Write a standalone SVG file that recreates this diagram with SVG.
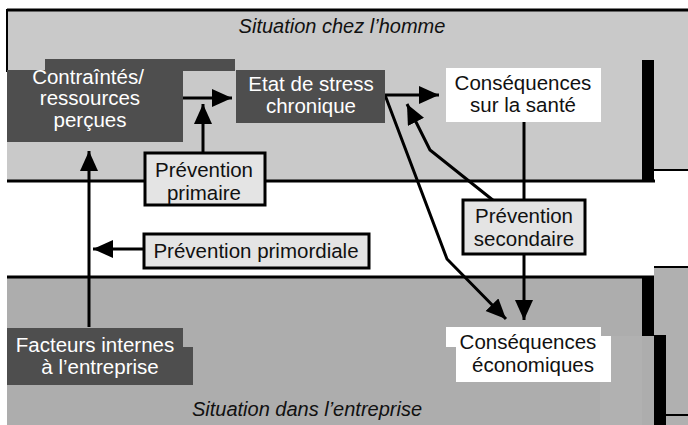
<svg xmlns="http://www.w3.org/2000/svg" width="688" height="425" viewBox="0 0 688 425">
<defs>
<marker id="ah" markerUnits="userSpaceOnUse" markerWidth="22" markerHeight="20" refX="20" refY="9" orient="auto">
<path d="M0,0 L20,9 L0,18 z" fill="#000"/>
</marker>
<style>
.t{font-family:"Liberation Sans",Arial,sans-serif;font-size:20.5px;text-anchor:middle}
.w{fill:#fff}
.k{fill:#111}
.it{font-style:italic;font-size:20px}
.dark{fill:#4e4e4e}
.prev{fill:#e4e4e4;stroke:#000;stroke-width:3}
.wb{fill:#fff}
.c{fill:none;stroke:#000;stroke-width:3}
</style>
</defs>
<rect width="688" height="425" fill="#fff"/>
<g id="band-homme">
<rect x="7" y="10" width="681" height="160" fill="#c9c9c9"/>
<rect x="7" y="170" width="647" height="11" fill="#c9c9c9"/>
<line x1="7" y1="10" x2="688" y2="10" stroke="#000" stroke-width="3"/>
<line x1="7" y1="9" x2="7" y2="72" stroke="#000" stroke-width="2"/>
<line x1="7" y1="181" x2="655" y2="181" stroke="#000" stroke-width="3"/>
<rect x="642" y="60" width="12" height="122" fill="#000"/>
<line x1="654" y1="170" x2="688" y2="170" stroke="#000" stroke-width="2"/>
<text class="t it k" x="342" y="33">Situation chez l’homme</text>
</g>
<g id="band-entreprise">
<rect x="7" y="278" width="647" height="147" fill="#adadad"/>
<rect x="600" y="336" width="42" height="89" fill="#b1b1b1"/>
<rect x="654" y="267" width="34" height="158" fill="#b0b0b0"/>
<line x1="7" y1="277" x2="654" y2="277" stroke="#000" stroke-width="3"/>
<line x1="654" y1="267" x2="688" y2="267" stroke="#000" stroke-width="2"/>
<rect x="642" y="277" width="12" height="59" fill="#000"/>
<rect x="654" y="335" width="12" height="90" fill="#000"/>
<line x1="666" y1="415" x2="688" y2="415" stroke="#000" stroke-width="2"/>
<text class="t it k" x="307" y="416">Situation dans l’entreprise</text>
</g>
<g id="connectors">
<line class="c" x1="89" y1="327" x2="89" y2="151" marker-end="url(#ah)"/>
<line class="c" x1="145" y1="249" x2="93" y2="249" marker-end="url(#ah)"/>
<line class="c" x1="183" y1="98" x2="232" y2="98" marker-end="url(#ah)"/>
<line class="c" x1="203" y1="152" x2="203" y2="104" marker-end="url(#ah)"/>
<line class="c" x1="385" y1="95" x2="439" y2="95" marker-end="url(#ah)"/>
<polyline class="c" points="494,201 430,150 407,104" marker-end="url(#ah)"/>
<line class="c" x1="524" y1="122" x2="524" y2="200"/>
<line class="c" x1="524" y1="254" x2="524" y2="320" marker-end="url(#ah)"/>
<polyline class="c" points="385,95 447,259 506,319" marker-end="url(#ah)"/>
</g>
<g id="contraintes">
<rect class="dark" x="45" y="59" width="190" height="12"/>
<rect class="dark" x="7" y="70" width="176" height="72"/>
<text class="t w" x="88" y="84">Contraîntés/</text>
<text class="t w" x="90" y="105">ressources</text>
<text class="t w" x="90" y="127">perçues</text>
</g>
<g id="stress">
<rect class="dark" x="236" y="70" width="149" height="53"/>
<text class="t w" x="311" y="91">Etat de stress</text>
<text class="t w" x="311" y="113">chronique</text>
</g>
<g id="sante">
<rect class="wb" x="446" y="68" width="155" height="54"/>
<text class="t k" x="523" y="90">Conséquences</text>
<text class="t k" x="523" y="112">sur la santé</text>
</g>
<g id="primaire">
<rect class="prev" x="145" y="153" width="120" height="52"/>
<text class="t k" x="204" y="177">Prévention</text>
<text class="t k" x="204" y="200">primaire</text>
</g>
<g id="primordiale">
<rect class="prev" x="144" y="234" width="225" height="34"/>
<text class="t k" x="256" y="258">Prévention primordiale</text>
</g>
<g id="secondaire">
<rect class="prev" x="463" y="200" width="122" height="54"/>
<text class="t k" x="524" y="223">Prévention</text>
<text class="t k" x="524" y="246">secondaire</text>
</g>
<g id="economiques">
<rect class="wb" x="446" y="327" width="155" height="20"/>
<rect class="wb" x="456" y="336" width="155" height="46"/>
<text class="t k" x="528" y="349">Conséquences</text>
<text class="t k" x="533" y="372">économiques</text>
</g>
<g id="facteurs">
<rect class="dark" x="7" y="328" width="176" height="20"/>
<rect class="dark" x="7" y="347" width="186" height="38"/>
<text class="t w" x="95" y="352">Facteurs internes</text>
<text class="t w" x="100" y="374">à l’entreprise</text>
</g>
</svg>
